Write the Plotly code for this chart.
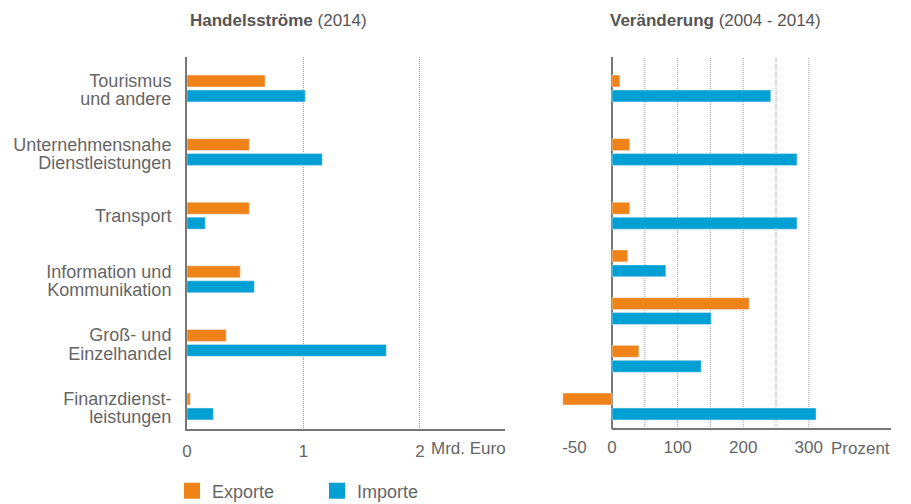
import plotly.graph_objects as go
import numpy as np

# ---------------- data ----------------
categories = [
    "Tourismus<br>und andere",
    "Unternehmensnahe<br>Dienstleistungen",
    "Transport",
    "Information und<br>Kommunikation",
    "Groß- und<br>Einzelhandel",
    "Finanzdienst-<br>leistungen",
]
flow_exports = [0.67, 0.535, 0.535, 0.458, 0.337, 0.028]   # Mrd. Euro (2014)
flow_imports = [1.015, 1.161, 0.157, 0.578, 1.711, 0.226]

change_rows = ["Reihe 1", "Reihe 2", "Reihe 3", "Reihe 4", "Reihe 5", "Reihe 6", "Reihe 7"]
change_exports = [12, 27, 27, 24, 209, 41, -75]             # Prozent (2004 - 2014)
change_imports = [242, 282, 282, 82, 151, 136, 311]

series_names = ["Exporte", "Importe"]
left_tickvals = [0, 1, 2]
left_ticktext = ["0", "1", "2"]
right_tickvals = [-50, 0, 100, 200, 300]
right_ticktext = ["-50\u00a0\u00a0", "0", "100", "200", "300"]
right_gridvals = [50, 100, 150, 200, 250, 300]

# ---------------- layout constants ----------------
W, H = 911, 504
SX, SY = 8, 8          # page body offset of the plot div
ORANGE = "#F08318"
BLUE = "#009FD4"
TEXT = "#666666"
AXIS = "#777777"
GRID = "#a0a0a0"
FONT = "Liberation Sans"

def px(x):
    return (x - SX) / W

def py(y):
    return 1 - (y - SY) / H

left_gaps = [4, 4, 4, 4, 4]
right_gaps = [4, 4, 3, 3, 3, 3]
left_slots = [float(v) for v in np.concatenate([[0], np.cumsum(left_gaps)])]
right_slots = [float(v) for v in np.concatenate([[0], np.cumsum(right_gaps)])]

BAR_W = 0.75
OFF_TOP = -0.845
OFF_BOT = 0.095
LINE_GAP = 1.15
LABEL_SHIFT = 0.08

# category tick labels: one tick per text line
cat_tickvals, cat_ticktext = [], []
for s, label in zip(left_slots, categories):
    lines = label.split("<br>")
    if len(lines) == 1:
        cat_tickvals.append(s)
        cat_ticktext.append(lines[0])
    else:
        cat_tickvals += [s + LABEL_SHIFT - LINE_GAP / 2, s + LABEL_SHIFT + LINE_GAP / 2]
        cat_ticktext += lines

y_range = [21.415, -1.98]
y_dom = [py(429), py(57)]
x1_dom = [px(187), px(505)]
x1_range = [0, 2.73]
x2_dom = [px(556), px(891)]
x2_range = [-85.4, 425.3]

fig = go.Figure()

# left panel
fig.add_trace(go.Bar(y=left_slots, x=flow_exports, orientation="h", offset=OFF_TOP, width=BAR_W,
                     marker_color=ORANGE, xaxis="x", yaxis="y", showlegend=False, name=series_names[0]))
fig.add_trace(go.Bar(y=left_slots, x=flow_imports, orientation="h", offset=OFF_BOT, width=BAR_W,
                     marker_color=BLUE, xaxis="x", yaxis="y", showlegend=False, name=series_names[1]))
# right panel
fig.add_trace(go.Bar(y=right_slots, x=change_exports, orientation="h", offset=OFF_TOP, width=BAR_W,
                     marker_color=ORANGE, xaxis="x2", yaxis="y2", showlegend=False, name=series_names[0],
                     customdata=change_rows))
fig.add_trace(go.Bar(y=right_slots, x=change_imports, orientation="h", offset=OFF_BOT, width=BAR_W,
                     marker_color=BLUE, xaxis="x2", yaxis="y2", showlegend=False, name=series_names[1],
                     customdata=change_rows))

# legend entries
for name, col in zip(series_names, [ORANGE, BLUE]):
    fig.add_trace(go.Scatter(x=[None], y=[None], mode="markers", name=name,
                             marker=dict(symbol="square", size=17, color=col),
                             xaxis="x", yaxis="y"))

shapes = []
for g in right_gridvals:
    shapes.append(dict(type="line", xref="x2", yref="y2 domain", x0=g, x1=g, y0=0, y1=1,
                       line=dict(color=GRID, width=1, dash="1px,1px"), layer="below"))
shapes.append(dict(type="line", xref="x2", yref="y2 domain", x0=0, x1=x2_range[1], y0=0, y1=0,
                   line=dict(color=AXIS, width=2), layer="above"))

annotations = [
    dict(text="<b>Handelsströme</b> (2014)", xref="paper", yref="paper", x=px(188), y=py(20),
         xanchor="left", yanchor="middle", showarrow=False, font=dict(size=17, color="#555555", family=FONT)),
    dict(text="<b>Veränderung</b> (2004 - 2014)", xref="paper", yref="paper", x=px(608), y=py(20),
         xanchor="left", yanchor="middle", showarrow=False, font=dict(size=17, color="#555555", family=FONT)),
    dict(text="Mrd. Euro", xref="x", yref="paper", x=2, xshift=9, y=py(448),
         xanchor="left", yanchor="middle", showarrow=False, font=dict(size=17, color=TEXT, family=FONT)),
    dict(text="Prozent", xref="x2", yref="paper", x=300, xshift=20, y=py(448),
         xanchor="left", yanchor="middle", showarrow=False, font=dict(size=17, color=TEXT, family=FONT)),
]

fig.update_layout(
    width=W, height=H,
    margin=dict(l=0, r=0, t=0, b=0),
    paper_bgcolor="white", plot_bgcolor="white",
    font=dict(family=FONT, size=17, color=TEXT),
    barmode="overlay",
    xaxis=dict(domain=x1_dom, range=x1_range, anchor="y", tickvals=left_tickvals, ticktext=left_ticktext,
               showgrid=True, gridcolor=GRID, griddash="1px,1px", gridwidth=1,
               showline=True, linecolor=AXIS, linewidth=2, zeroline=False, ticks="",
               ticklabelstandoff=6, automargin=False,
               tickfont=dict(size=17, color=TEXT), fixedrange=True),
    yaxis=dict(domain=y_dom, range=y_range, anchor="x", tickvals=cat_tickvals, ticktext=cat_ticktext,
               showline=True, linecolor=AXIS, linewidth=2, showgrid=False, zeroline=False, ticks="",
               ticklabelstandoff=10, automargin=False,
               tickfont=dict(size=18, color=TEXT), fixedrange=True),
    xaxis2=dict(domain=x2_dom, range=x2_range, anchor="y2", tickvals=right_tickvals, ticktext=right_ticktext,
                showgrid=False, showline=False, zeroline=True, zerolinecolor=AXIS, zerolinewidth=2, ticks="",
                ticklabelstandoff=6, automargin=False,
                tickfont=dict(size=17, color=TEXT), fixedrange=True),
    yaxis2=dict(domain=y_dom, range=y_range, anchor="x2", showticklabels=False, showgrid=False,
                zeroline=False, showline=False, ticks="", automargin=False, fixedrange=True),
    legend=dict(orientation="h", x=164 / W, y=0.005, xanchor="left", yanchor="bottom",
                entrywidth=100, font=dict(size=18, color=TEXT), bgcolor="rgba(0,0,0,0)"),
    shapes=shapes,
    annotations=annotations,
)

fig.write_html("out.html")
